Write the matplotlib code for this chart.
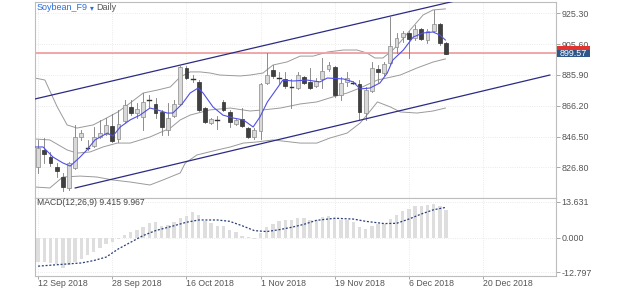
import matplotlib
matplotlib.use('Agg')
import matplotlib.pyplot as plt
from matplotlib.patches import Rectangle

plt.rcParams['font.family'] = ['Liberation Sans', 'DejaVu Sans']

# daily candles, 12 Sep 2018 onwards
opens = [827.0, 837.9, 833.4, 827.0, 820.6, 813.6, 826.4, 846.2, 839.2, 840.4,
         846.2, 848.1, 853.2, 844.9, 856.4, 865.4, 861.5, 859.0, 869.9, 867.3,
         862.2, 850.7, 859.6, 867.3, 890.3, 883.3, 881.4, 864.7, 855.1, 857.1,
         868.6, 862.2, 854.5, 857.7, 851.9, 846.2, 850.0, 880.7, 889.0, 883.9,
         883.3, 878.2, 877.5, 884.6, 881.4, 878.8, 883.3, 889.7, 891.0, 873.1,
         881.4, 880.7, 880.1, 861.5, 875.6, 889.7, 887.1, 893.5, 903.8, 910.2,
         912.7, 909.5, 915.3, 908.2, 914.0, 918.5, 906.3]
highs = [844.3, 845.5, 836.6, 829.6, 823.2, 830.2, 853.9, 850.7, 844.3, 852.6,
         857.1, 858.3, 860.9, 863.5, 869.9, 869.9, 868.0, 874.3, 873.1, 871.1,
         863.5, 867.9, 869.9, 891.6, 891.6, 885.8, 882.6, 865.4, 858.3, 859.6,
         869.9, 863.5, 857.7, 864.7, 852.6, 851.9, 880.7, 899.9, 892.2, 887.8,
         887.8, 883.3, 887.8, 885.2, 890.3, 883.9, 896.7, 894.2, 891.6, 884.6,
         887.8, 882.0, 882.6, 878.2, 894.2, 892.2, 894.2, 922.9, 912.7, 914.0,
         914.0, 917.8, 915.9, 915.3, 927.4, 919.1, 906.9]
lows = [823.2, 829.6, 827.6, 820.6, 811.6, 812.5, 825.7, 844.3, 838.0, 839.8,
        845.5, 847.5, 843.0, 843.0, 855.8, 860.2, 858.3, 850.7, 865.4, 858.3,
        847.5, 847.5, 859.0, 866.7, 883.3, 881.4, 862.8, 855.1, 854.5, 851.3,
        862.8, 852.6, 853.9, 852.6, 845.5, 844.9, 844.9, 880.1, 883.9, 880.7,
        877.5, 864.7, 876.9, 880.1, 876.9, 878.2, 877.5, 888.4, 871.8, 869.9,
        878.8, 880.1, 857.1, 857.1, 875.0, 881.4, 885.8, 892.2, 899.9, 906.9,
        896.7, 908.2, 908.2, 906.3, 913.3, 905.0, 899.3]
closes = [839.2, 835.3, 829.6, 824.4, 814.2, 829.6, 846.2, 848.7, 839.2, 846.2,
          848.7, 853.9, 843.6, 854.5, 866.7, 861.5, 864.1, 868.6, 869.9, 861.5,
          852.6, 858.3, 867.3, 891.0, 883.9, 883.3, 863.5, 855.8, 857.7, 857.1,
          863.5, 855.8, 857.1, 853.2, 846.2, 850.7, 880.1, 885.8, 885.2, 883.9,
          878.8, 878.2, 885.8, 880.7, 877.5, 882.0, 888.4, 892.2, 873.1, 880.7,
          883.9, 880.7, 862.2, 876.3, 890.3, 887.8, 892.9, 904.4, 909.5, 912.7,
          908.9, 915.3, 908.9, 914.0, 918.5, 906.3, 899.57]

# overlay lines, sampled (bar index, price)
bb_up_x = [-0.5, 1.1, 3.1, 4.7, 6.3, 8.9, 10.5, 12.9, 14.9, 17.0, 19.3, 21.4, 23.0,
           24.6, 26.2, 27.8, 29.4, 32.7, 34.3, 36.4, 38.0, 40.3, 42.4, 44.5, 46.8,
           49.4, 51.6, 53.2, 54.5, 55.8, 57.4, 58.6, 60.2, 62.3, 63.9, 65.9]
bb_up_y = [883.9, 882.6, 865.4, 853.9, 851.9, 853.9, 857.1, 862.2, 867.9, 874.3,
           876.2, 878.2, 884.6, 887.8, 887.8, 887.1, 885.8, 885.2, 885.8, 887.1,
           892.2, 894.2, 897.9, 897.9, 900.5, 901.8, 901.8, 899.9, 896.7, 896.7,
           901.8, 906.9, 914.6, 924.2, 927.4, 928.1]
bb_mid_x = [-0.5, 1.9, 4.7, 6.3, 8.4, 10.5, 12.8, 14.9, 18.1, 21.4, 23.0, 24.6,
            27.8, 31.1, 34.3, 36.4, 39.2, 42.4, 45.1, 47.7, 50.0, 52.1, 54.9,
            58.6, 61.3, 63.9, 65.9]
bb_mid_y = [844.9, 844.3, 837.9, 835.9, 836.6, 839.8, 842.3, 842.3, 846.2, 851.9,
            857.1, 860.2, 863.5, 864.7, 862.8, 863.5, 864.7, 867.3, 868.6, 871.8,
            874.3, 877.5, 882.6, 885.8, 890.3, 894.1, 896.1]
bb_lo_x = [-0.5, 1.9, 4.0, 6.8, 9.5, 12.1, 14.9, 18.1, 20.2, 23.0, 23.8, 25.7,
           29.0, 31.1, 33.2, 35.4, 38.0, 42.4, 45.1, 47.2, 50.0, 52.1, 53.2, 54.9,
           57.0, 58.6, 61.3, 63.9, 65.9]
bb_lo_y = [814.2, 813.6, 820.6, 821.2, 820.6, 818.7, 817.4, 815.5, 818.7, 823.2,
           829.5, 834.7, 837.9, 839.8, 842.3, 843.0, 844.3, 842.3, 842.3, 845.5,
           848.7, 855.1, 860.2, 868.6, 865.4, 862.2, 861.5, 862.8, 864.7]
ma_x = [-0.5, 0.8, 2.4, 4.0, 5.2, 6.8, 7.9, 9.2, 11.2, 12.1, 13.3, 14.9, 16.5,
        18.1, 19.3, 20.9, 21.8, 23.3, 24.6, 25.9, 26.7, 28.3, 29.9, 31.6, 33.2,
        34.8, 35.9, 37.1, 38.7, 39.6, 41.3, 43.5, 45.6, 46.8, 49.4, 51.0, 52.1,
        53.7, 55.3, 56.5, 57.4, 59.1, 60.7, 62.3, 63.9, 65.0, 65.9]
ma_y = [839.8, 839.8, 833.4, 829.6, 827.6, 833.4, 837.9, 844.3, 848.7, 846.8,
        852.6, 857.1, 860.2, 864.7, 863.5, 861.5, 861.5, 867.3, 874.3, 877.5,
        874.3, 865.4, 860.2, 858.3, 857.1, 852.6, 859.0, 868.6, 877.5, 882.6,
        882.0, 882.6, 881.4, 883.9, 883.3, 881.4, 876.9, 877.5, 880.7, 887.1,
        895.4, 901.8, 910.1, 912.7, 913.3, 911.4, 908.2]
chan_up_x, chan_up_y = [-0.5, 67.5], [870.5, 933.2]
chan_lo_x, chan_lo_y = [6.0, 82.8], [813.6, 885.8]
last_price = 899.57

# MACD panel
macd_hist = [-9.1, -9.1, -9.3, -9.75, -11.4, -10.1, -8.9, -7.9, -6.25, -5.1,
             -3.9, -2.25, -1.4, -0.4, 1.1, 2.1, 3.0, 4.25, 5.5, 5.9,
             4.6, 4.9, 5.9, 7.4, 8.4, 9.6, 8.6, 6.5, 5.5, 4.4,
             4.4, 3.1, 2.1, 0.9, 0.25, -0.4, 1.9, 4.0, 5.4, 6.4,
             6.6, 6.6, 7.4, 7.4, 6.6, 6.9, 7.75, 8.4, 7.4, 6.9,
             6.9, 6.1, 4.0, 3.4, 4.6, 5.25, 5.4, 7.1, 8.75, 10.25,
             10.9, 11.9, 11.9, 12.4, 12.75, 11.9, 10.6]
sig_x = [0, 4, 7, 9, 11, 13, 15, 17, 19, 22, 24, 26, 29, 31, 33, 35, 37, 39,
         41, 43, 45, 48, 51, 53, 56, 58, 60, 62, 64, 66]
sig_y = [-10.6, -9.9, -9.4, -8.5, -7.2, -4.1, -1.6, 0.9, 2.75, 4.6, 5.9, 6.75,
         6.75, 6.25, 4.6, 2.75, 2.4, 3.1, 4.0, 5.1, 6.6, 7.4, 7.1, 6.25, 5.4,
         5.5, 7.1, 9.0, 10.6, 11.5]

date_pos = [0, 12, 24, 36, 48, 60, 72]
date_lbl = ['12 Sep 2018', '28 Sep 2018', '16 Oct 2018', '1 Nov 2018',
            '19 Nov 2018', '6 Dec 2018', '20 Dec 2018']
price_ticks = [925.30, 905.60, 885.90, 866.20, 846.50, 826.80]
macd_ticks = [13.631, 0.0, -12.797]

fig = plt.figure(figsize=(6.25, 2.89), dpi=100)
ax = fig.add_axes([35/625, 1-197.5/289, 521/625, 195.5/289])
ax2 = fig.add_axes([35/625, 1-276/289, 521/625, 78.5/289])

edge = '#bdbdbd'
for a in (ax, ax2):
    a.set_xlim(-0.5, 83.8)
    for s in a.spines.values():
        s.set_color(edge)
        s.set_linewidth(0.8)
    a.yaxis.tick_right()
    a.tick_params(axis='y', length=3, width=0.6, color='#999999', pad=1,
                  labelsize=6.4, labelcolor='#555555')
    a.set_xticks(date_pos)
    a.grid(True, color='#e4e4e4', linestyle=':', linewidth=0.6)
    a.set_axisbelow(True)

ax.set_ylim(807.5, 932.5)
ax.set_yticks(price_ticks)
ax.set_yticklabels(['%.2f' % v for v in price_ticks])
ax.tick_params(axis='x', length=0, labelbottom=False)

# candles
w = 0.62
for i in range(len(opens)):
    o, h, l, c = opens[i], highs[i], lows[i], closes[i]
    ax.plot([i, i], [l, h], color='#7a7a7a', lw=0.6, zorder=3)
    if c > o:
        ax.add_patch(Rectangle((i - w/2, o), w, c - o, fc='#d9d9d9',
                               ec='#8a8a8a', lw=0.5, zorder=4))
    elif c < o:
        ax.add_patch(Rectangle((i - w/2, c), w, o - c, fc='#404040',
                               ec='#303030', lw=0.5, zorder=4))
    else:
        ax.plot([i - w/2, i + w/2], [o, o], color='#303030', lw=1.0, zorder=4)

ax.plot(bb_up_x, bb_up_y, color='#9a9a9a', lw=0.7, zorder=2)
ax.plot(bb_mid_x, bb_mid_y, color='#9a9a9a', lw=0.7, zorder=2)
ax.plot(bb_lo_x, bb_lo_y, color='#9a9a9a', lw=0.7, zorder=2)
ax.plot(ma_x, ma_y, color='#4f4fe6', lw=0.8, zorder=5)
ax.plot(chan_up_x, chan_up_y, color='#2b2b85', lw=0.9, zorder=5)
ax.plot(chan_lo_x, chan_lo_y, color='#2b2b85', lw=0.9, zorder=5)

ax.axhline(last_price + 1.0, color='#f0a8a8', lw=0.7, zorder=2)
ax.axhline(last_price + 0.3, color='#a8b0d0', lw=0.6, zorder=2)

# last price tag
tr = ax.get_yaxis_transform()
ax.add_patch(Rectangle((1.002, 897.3), 0.063, 6.8, transform=tr, fc='#e2342f',
                       ec='none', clip_on=False, zorder=6))
ax.add_patch(Rectangle((1.002, 897.3), 0.063, 4.5, transform=tr, fc='#2f5688',
                       ec='none', clip_on=False, zorder=7))
ax.text(1.006, last_price, '%.2f' % last_price, transform=tr, color='white',
        fontsize=6.4, va='center', ha='left', zorder=8)

fig.text(37/625, 1-8/289, 'Soybean_F9', color='#2b6de0', fontsize=6.5, va='center')
fig.text(89.5/625, 1-8.5/289, '\u25be', color='#2b6de0', fontsize=5.5, va='center')
fig.text(96/625, 1-8/289, 'Daily', color='#555555', fontsize=6.5, va='center')

# MACD
ax2.set_ylim(-14.3, 15.2)
ax2.bar(range(len(macd_hist)), macd_hist, width=0.55, color='#dedede', zorder=2)
ax2.plot(sig_x, sig_y, color='#2a3f7a', lw=0.9, dashes=(1.6, 1.4), zorder=3)
ax2.set_yticks(macd_ticks)
ax2.set_yticklabels(['%.3f' % v for v in macd_ticks])
ax2.set_xticklabels(date_lbl, ha='left')
ax2.tick_params(axis='x', length=2, width=0.6, color='#999999', pad=0,
                labelsize=6.3, labelcolor='#555555')
ax2.text(0.004, 0.93, 'MACD(12,26,9) 9.415 9.967', transform=ax2.transAxes,
         fontsize=6.2, color='#444444', va='center', ha='left')

fig.savefig('out.png', dpi=100)
